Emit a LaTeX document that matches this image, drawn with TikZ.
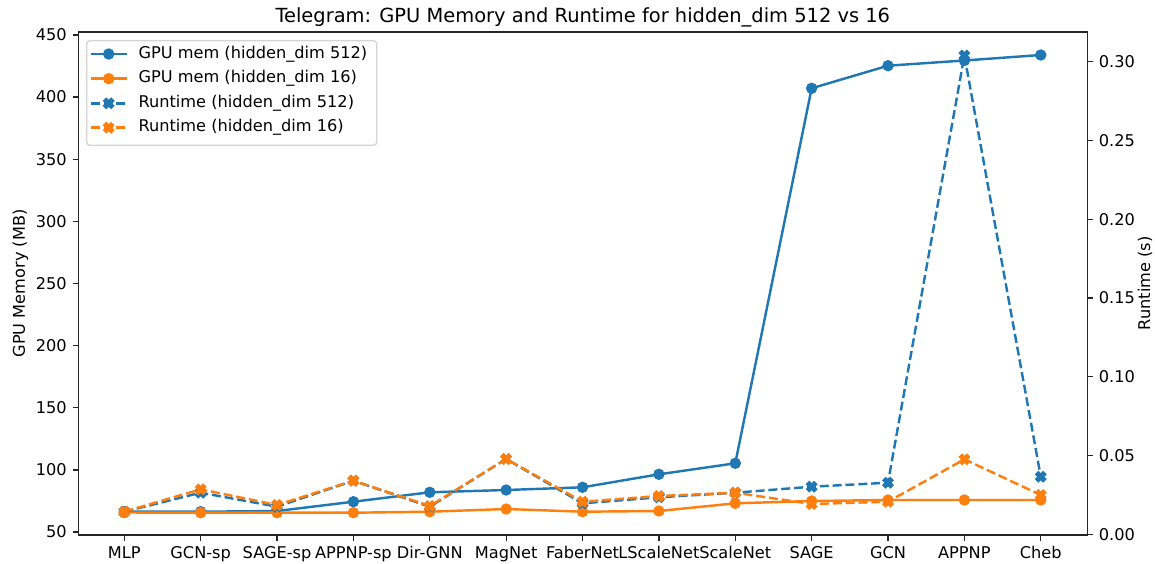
\documentclass[tikz,border=0pt]{standalone}
\usepackage{fontspec}
\setmainfont{DejaVu Sans}
\usetikzlibrary{calc}
\definecolor{mplblue}{HTML}{1F77B4}
\definecolor{mplorange}{HTML}{FF7F0E}
\definecolor{spine}{HTML}{262626}
\tikzset{
  series/.style={line width=1.75pt, line join=round},
  dashseries/.style={series, dash pattern=on 6.47pt off 2.8pt},
  dotmk/.pic={\filldraw[line width=1.165pt] (0,0) circle (3.5pt);},
  xmk/.pic={\filldraw[line width=1.165pt, line join=miter]
      (-1.75pt,-3.5pt) -- (0pt,-1.75pt) -- (1.75pt,-3.5pt) -- (3.5pt,-1.75pt) -- (1.75pt,0pt) -- (3.5pt,1.75pt)
      -- (1.75pt,3.5pt) -- (0pt,1.75pt) -- (-1.75pt,3.5pt) -- (-3.5pt,1.75pt) -- (-1.75pt,0pt) -- (-3.5pt,-1.75pt) -- cycle;},
  ticklab/.style={font=\fontsize{11.65}{14}\selectfont, text=black, inner sep=0pt},
  tickmark/.style={line width=0.93pt, draw=spine},
}
\begin{document}
\begin{tikzpicture}[x=0.72pt, y=-0.72pt]
\useasboundingbox (0,0) rectangle (1155,564);
\fill[white] (0,0) rectangle (1155,564);

% axes frame
\coordinate (axNW) at (78.3,32);
\coordinate (axSE) at (1087.3,535);

% data points: x, GPU mem 512, GPU mem 16, runtime 512, runtime 16 (pixel rows)
\foreach \i/\x/\a/\b/\c/\d in {
  0/124.3/511.7/512.5/511.7/511.7,
  1/200.67/511.7/512.7/492.7/489.3,
  2/277.04/511.0/512.7/506.7/505.0,
  3/353.41/501.7/512.7/480.7/480.7,
  4/429.78/492.3/511.7/506.7/506.0,
  5/506.15/490.0/509.0/459.0/459.0,
  6/582.52/487.3/511.7/503.3/501.7,
  7/658.89/474.3/511.0/497.3/496.0,
  8/735.26/463.3/503.3/492.7/492.7,
  9/811.63/88.3/501.0/486.7/504.0,
  10/888.0/65.7/500.0/482.7/501.7,
  11/964.37/60.5/500.0/55.5/459.3,
  12/1040.74/55.0/500.0/476.7/495.0}{
  \coordinate (tick-\i) at (\x,535);
  \coordinate (memA-\i) at (\x,\a);
  \coordinate (memB-\i) at (\x,\b);
  \coordinate (rtA-\i) at (\x,\c);
  \coordinate (rtB-\i) at (\x,\d);
}

% GPU memory series (left axis)
\draw[series, mplblue] (memA-0) \foreach \i in {1,...,12}{ -- (memA-\i)};
\foreach \i in {0,...,12} \pic[color=mplblue] at (memA-\i) {dotmk};
\draw[series, mplorange] (memB-0) \foreach \i in {1,...,12}{ -- (memB-\i)};
\foreach \i in {0,...,12} \pic[color=mplorange] at (memB-\i) {dotmk};

% runtime series (right axis)
\draw[dashseries, mplblue] (rtA-0) \foreach \i in {1,...,12}{ -- (rtA-\i)};
\foreach \i in {0,...,12} \pic[color=mplblue] at (rtA-\i) {xmk};
\draw[dashseries, mplorange] (rtB-0) \foreach \i in {1,...,12}{ -- (rtB-\i)};
\foreach \i in {0,...,12} \pic[color=mplorange] at (rtB-\i) {xmk};

% spines
\draw[line width=0.93pt, draw=spine, line join=miter] (axNW) rectangle (axSE);

% x ticks and labels
\foreach \i/\lab in {0/MLP,1/GCN-sp,2/SAGE-sp,3/APPNP-sp,4/Dir-GNN,5/MagNet,6/FaberNet,7/LScaleNet,8/ScaleNet,9/SAGE,10/GCN,11/APPNP,12/Cheb}{
  \draw[tickmark] (tick-\i) -- ++(0,5.67);
  \node[ticklab, anchor=north] (xl-\i) at ($(tick-\i)+(0,11.35)$) {\lab};
}

% left y ticks (GPU memory)
\foreach \v/\yy in {50/532.0,100/469.9,150/407.8,200/345.6,250/283.5,300/221.4,350/159.3,400/97.1,450/35.0}{
  \draw[tickmark] (78.3,\yy) -- ++(-5.67,0);
  \node[ticklab, anchor=east] (yl-\v) at (67.0,\yy) {\v};
}

% right y ticks (runtime)
\foreach \v/\yy in {0.00/534.3,0.05/455.5,0.10/376.8,0.15/298.0,0.20/219.2,0.25/140.5,0.30/61.7}{
  \draw[tickmark] (1087.3,\yy) -- ++(5.67,0);
  \node[ticklab, anchor=west] at (1098.6,\yy) {\v};
}

% axis labels and title
\node[ticklab, rotate=90] (ylabL) at (20.5,283.5) {GPU Memory (MB)};
\node[ticklab, rotate=90] (ylabR) at (1145,283.5) {Runtime (s)};
\node[font=\fontsize{14}{16}\selectfont, inner sep=0pt, anchor=base] (title) at (582.8,22.3)
  {Telegram: GPU Memory and Runtime for hidden\_dim 512 vs 16};

% legend
\draw[rounded corners=2.3pt, draw=black!17, fill=white, fill opacity=0.8, line width=0.93pt]
  (86.7,40.7) rectangle (376.7,145.3);
\foreach \k/\yy/\col/\sty/\mk/\lab in {
  1/54.0/mplblue/series/dotmk/{GPU mem (hidden\_dim 512)},
  2/78.7/mplorange/series/dotmk/{GPU mem (hidden\_dim 16)},
  3/103.3/mplblue/dashseries/xmk/{Runtime (hidden\_dim 512)},
  4/127.7/mplorange/dashseries/xmk/{Runtime (hidden\_dim 16)}}{
  \coordinate (lg\k a) at (90.7,\yy);
  \coordinate (lg\k b) at (126.7,\yy);
  \draw[\sty, \col] (lg\k a) -- (lg\k b);
  \pic[color=\col] at ($(lg\k a)!0.5!(lg\k b)$) {\mk};
  \node[ticklab, anchor=west] (lg\k t) at (138.3,\yy) {\lab};
}
\end{tikzpicture}
\end{document}
